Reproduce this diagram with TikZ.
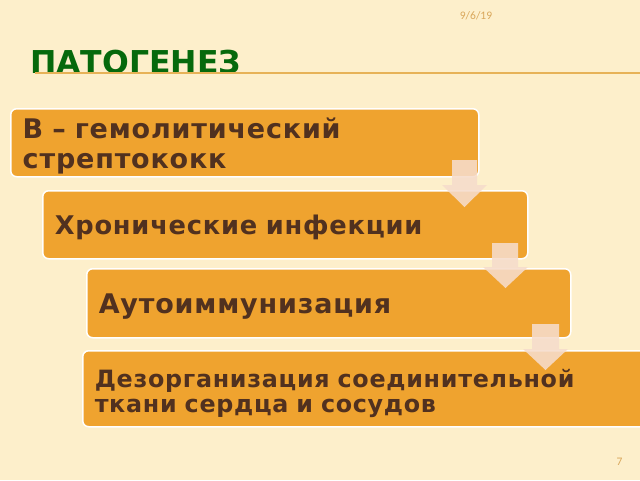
\documentclass[tikz,border=0pt]{standalone}
\usepackage{fontspec}
\setmainfont{DejaVu Sans}
\newfontfamily\slidefont{Carlito}
\newfontfamily\boxfont[LetterSpace=3]{DejaVu Sans}
\usetikzlibrary{positioning}
\definecolor{slidebg}{HTML}{FDEFCB}
\definecolor{boxfill}{HTML}{EFA32F}
\definecolor{boxtext}{HTML}{51311F}
\definecolor{arrowfill}{HTML}{F6DCCB}
\definecolor{titlegreen}{HTML}{06690C}
\definecolor{ruleline}{HTML}{E7B257}
\definecolor{datecol}{HTML}{D9A75B}
\tikzset{
  stepbox/.style={draw=white, line width=1.5pt, fill=boxfill, rounded corners=6pt,
    anchor=north west, minimum height=68pt, inner xsep=12pt, align=left,
    text=boxtext},
  boxsize/.style={font=\boxfont\bfseries\fontsize{#1}{30}\selectfont},
  downarrow/.style={fill=arrowfill, opacity=0.88},
  smalltext/.style={text=datecol, font=\slidefont\fontsize{11.5}{12}\selectfont}
}
\begin{document}
\begin{tikzpicture}[x=1pt,y=-1pt]
  \useasboundingbox[fill=slidebg] (0,0) rectangle (640,480);
  \node[smalltext] (date) at (476,16) {9/6/19};
  \node[text=titlegreen, anchor=base west, inner sep=0pt,
    font=\bfseries\fontsize{31.5}{34}\selectfont] (title) at (30,73) {ПАТОГЕНЕЗ};
  \draw[ruleline, line width=1.2pt] (35,73) -- (640,73);
  \node[smalltext] (page) at (619.5,462) {7};
  % boxes
  \node[stepbox, boxsize=27, text depth=30pt, minimum width=468pt, text width=444pt] (b1) at (10,108)
    {В – гемолитический\\стрептококк};
  \node[stepbox, boxsize=25.7, text depth=0pt, minimum width=485pt, text width=461pt] (b2) at (42,190)
    {Хронические инфекции};
  \node[stepbox, boxsize=27, text depth=0pt, minimum width=484pt, text width=460pt, minimum height=69pt] (b3) at (86,268)
    {Аутоиммунизация};
  \node[stepbox, text depth=21pt, minimum width=580pt, text width=556pt, minimum height=76pt,
    font=\boxfont\bfseries\fontsize{23.8}{25}\selectfont] (b4) at (82,350)
    {Дезорганизация соединительной\\ткани сердца и сосудов};
  % arrows between boxes
  \fill[downarrow] (452,160) -- (477,160) -- (477,185) -- (487,185) -- (464.5,207)
    -- (442,185) -- (452,185) -- cycle;
  \fill[downarrow] (492,243) -- (518,243) -- (518,267) -- (528,267) -- (505.5,288)
    -- (483,267) -- (492,267) -- cycle;
  \fill[downarrow] (532,324) -- (559,324) -- (559,349) -- (568,349) -- (545.5,370)
    -- (523,349) -- (532,349) -- cycle;
\end{tikzpicture}
\end{document}
